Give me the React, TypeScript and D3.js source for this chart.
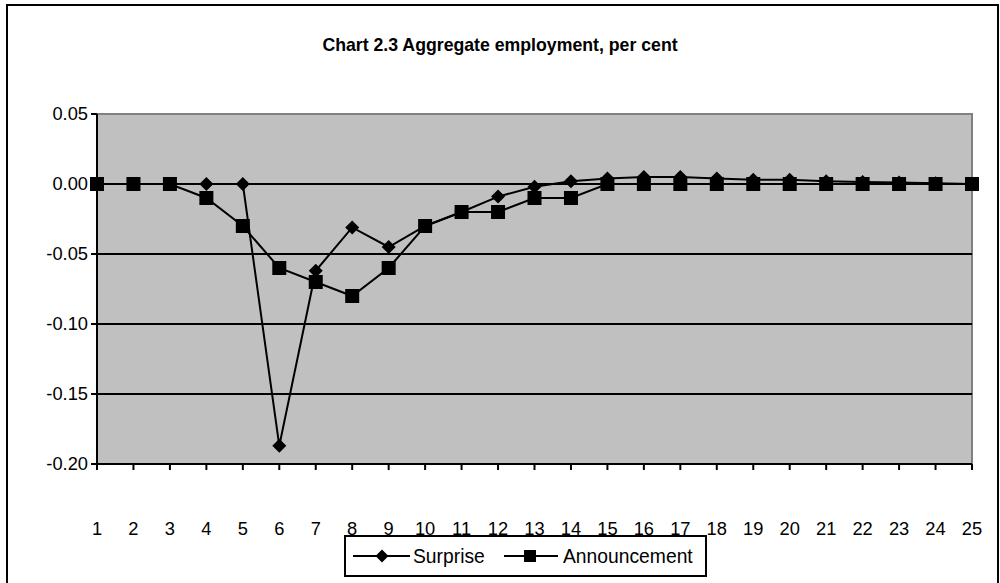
import React from "react";
import * as d3 from "d3";

const periods = Array.from({ length: 25 }, (_, i) => i + 1);
const surprise = [0, 0, 0, 0, 0, -0.187, -0.062, -0.031, -0.045, -0.03, -0.02, -0.009, -0.002, 0.002, 0.004, 0.005, 0.005, 0.004, 0.003, 0.003, 0.002, 0.0015, 0.001, 0.0005, 0];
const announcement = [0, 0, 0, -0.01, -0.03, -0.06, -0.07, -0.08, -0.06, -0.03, -0.02, -0.02, -0.01, -0.01, 0, 0, 0, 0, 0, 0, 0, 0, 0, 0, 0];
const yTicks = [0.05, 0, -0.05, -0.1, -0.15, -0.2];
const title = "Chart 2.3 Aggregate employment, per cent";
const seriesNames = ["Surprise", "Announcement"];

export default function App() {
  const W = 1000, H = 583;
  const left = 97, right = 972, top = 114, bottom = 464;
  const x = d3.scalePoint<number>().domain(periods).range([left, right]);
  const y = d3.scaleLinear().domain([-0.2, 0.05]).range([bottom, top]);
  const line = d3.line<number>().x((_, i) => x(periods[i])!).y((d) => y(d));
  const font = "Arial, 'Liberation Sans', sans-serif";
  const fmt = (t: number) => d3.format(".2f")(t).replace("\u2212", "-");
  const diamond = (cx: number, cy: number, r = 7) =>
    `M${cx},${cy - r}L${cx + r},${cy}L${cx},${cy + r}L${cx - r},${cy}Z`;
  const sq = 14;
  return (
    <svg width={W} height={H} style={{ position: "absolute", left: 0, top: 0 }} fontFamily={font}>
      <rect x={0} y={0} width={W} height={H} fill="#fff" />
      <rect x={7} y={5} width={991} height={600} fill="none" stroke="#000" strokeWidth={2} />
      <text x={500} y={51} textAnchor="middle" fontSize={17.7} fontWeight="bold">{title}</text>
      <rect x={left} y={top} width={right - left} height={bottom - top} fill="#c0c0c0" stroke="#808080" strokeWidth={2} />
      {yTicks.filter((t) => t !== 0.05 && t !== -0.2).map((t) => (
        <line key={t} x1={left} x2={right} y1={y(t)} y2={y(t)} stroke="#000" strokeWidth={2} />
      ))}
      <line x1={left} x2={left} y1={top} y2={bottom} stroke="#000" strokeWidth={2} />
      <line x1={left} x2={right} y1={bottom} y2={bottom} stroke="#000" strokeWidth={2} />
      {yTicks.map((t) => (
        <g key={"yt" + t}>
          <line x1={left - 6} x2={left} y1={y(t)} y2={y(t)} stroke="#000" strokeWidth={2} />
          <text x={88} y={y(t)} dy="0.35em" textAnchor="end" fontSize={18.3}>{fmt(t)}</text>
        </g>
      ))}
      {periods.map((p) => (
        <g key={"xt" + p}>
          <line x1={x(p)} x2={x(p)} y1={bottom} y2={bottom + 6} stroke="#000" strokeWidth={2} />
          <text x={x(p)} y={535} textAnchor="middle" fontSize={18.3}>{p}</text>
        </g>
      ))}
      <path d={line(surprise)!} fill="none" stroke="#000" strokeWidth={2} />
      {surprise.map((v, i) => (
        <path key={"s" + i} d={diamond(x(periods[i])!, y(v))} fill="#000" />
      ))}
      <path d={line(announcement)!} fill="none" stroke="#000" strokeWidth={2} />
      {announcement.map((v, i) => (
        <rect key={"a" + i} x={x(periods[i])! - sq / 2} y={y(v) - sq / 2} width={sq} height={sq} fill="#000" />
      ))}
      <rect x={345} y={536} width={361} height={40} fill="#fff" stroke="#000" strokeWidth={2} />
      <line x1={353} x2={410} y1={556} y2={556} stroke="#000" strokeWidth={2} />
      <path d={diamond(382, 556, 6.5)} fill="#000" />
      <text x={413} y={556} dy="0.35em" fontSize={19.3}>{seriesNames[0]}</text>
      <line x1={504} x2={558} y1={556} y2={556} stroke="#000" strokeWidth={2} />
      <rect x={524} y={550} width={12} height={12} fill="#000" />
      <text x={563} y={556} dy="0.35em" fontSize={19.3}>{seriesNames[1]}</text>
    </svg>
  );
}
